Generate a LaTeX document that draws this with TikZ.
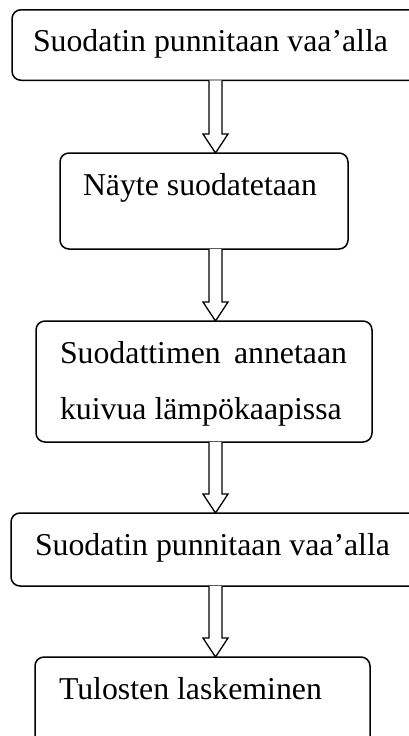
\documentclass[tikz,border=0pt]{standalone}
\usepackage{fontspec}
\setmainfont{Liberation Serif}
\usetikzlibrary{calc}
\tikzset{
  box/.style={draw, line width=1.5pt, rounded corners=9pt, inner sep=0pt, outer sep=0pt},
  txt/.style={anchor=base west, inner sep=0pt, outer sep=0pt, font=\fontsize{31.8}{38}\selectfont},
  blockarrowsty/.style={draw, line width=1.3pt, line join=miter, fill=white}
}
\newcommand\blockarr[2]{%
  \draw[blockarrowsty] let \p1=(#1.south -| ax), \p2=(#2.north -| ax) in
    (\x1-6.5pt,\y1) -- (\x1-6.5pt,\y2+19pt) -- (\x1-12.5pt,\y2+19pt) -- (\x1,\y2)
    -- (\x1+12.5pt,\y2+19pt) -- (\x1+6.5pt,\y2+19pt) -- (\x1+6.5pt,\y1);}
\begin{document}
\begin{tikzpicture}[x=1pt,y=-1pt]
\useasboundingbox (0,0) rectangle (409,736);
\clip (0,0) rectangle (409,736);
\coordinate (ax) at (215.5,0);
% boxes
\node[box, minimum width=410pt, minimum height=70.5pt] (b1) at (217,45) {};
\node[box, minimum width=288pt, minimum height=96pt] (b2) at (204,201) {};
\node[box, minimum width=336pt, minimum height=121pt] (b3) at (204,381.5) {};
\node[box, minimum width=410pt, minimum height=73pt] (b4) at (216,549.5) {};
\node[box, minimum width=335pt, minimum height=100pt] (b5) at (202.5,707) {};
% texts
\node[txt] (t1) at (33,51) {Suodatin punnitaan vaa’alla};
\node[txt] (t2) at (83,195) {Näyte suodatetaan};
\node[txt] (t3a) at (60,363) {\makebox[287pt][s]{Suodattimen annetaan}};
\node[txt] (t3b) at (60,419) {kuivua lämpökaapissa};
\node[txt] (t4) at (35,555) {Suodatin punnitaan vaa’alla};
\node[txt] (t5) at (59,699) {Tulosten laskeminen};
% arrows
\blockarr{b1}{b2}
\blockarr{b2}{b3}
\blockarr{b3}{b4}
\blockarr{b4}{b5}
\end{tikzpicture}
\end{document}
